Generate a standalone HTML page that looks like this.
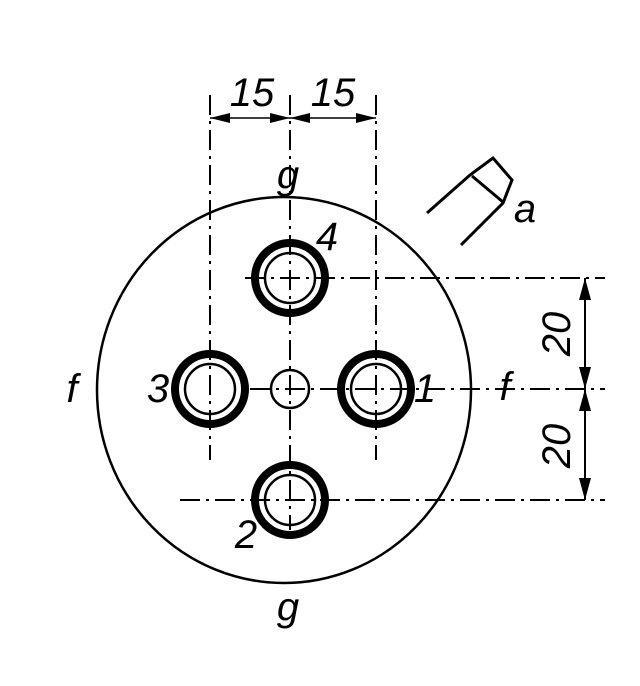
<!DOCTYPE html>
<html><head><style>html,body{margin:0;padding:0;background:#fff}</style></head><body>
<svg width="640" height="681" viewBox="0 0 640 681" xmlns="http://www.w3.org/2000/svg" font-family="Liberation Sans, sans-serif" font-style="italic">
<rect width="640" height="681" fill="#fff"/>
<ellipse cx="284" cy="390" rx="187" ry="193" fill="none" stroke="#000" stroke-width="2.5"/>
<g stroke="#000" stroke-width="2" stroke-dasharray="20,6,3,6" fill="none">
<line x1="210" y1="95" x2="210" y2="460"/>
<line x1="376" y1="95" x2="376" y2="460"/>
<line x1="290" y1="95" x2="290" y2="530"/>
<line x1="245" y1="278" x2="605" y2="278"/>
<line x1="180" y1="500" x2="605" y2="500"/>
<line x1="250" y1="389" x2="605" y2="389"/>
</g>
<line x1="210" y1="118" x2="376" y2="118" stroke="#000" stroke-width="1.5"/>
<g fill="#000">
<polygon points="210,118 230,113 230,123"/>
<polygon points="376,118 356,113 356,123"/>
<polygon points="290,118 270,113 270,123"/>
<polygon points="290,118 310,113 310,123"/>
<polygon points="585,278 579,300 591,300"/>
<polygon points="585,389 579,367 591,367"/>
<polygon points="585,389 579,411 591,411"/>
<polygon points="585,500 579,478 591,478"/>
</g>
<line x1="585" y1="278" x2="585" y2="500" stroke="#000" stroke-width="2"/>
<g fill="none" stroke="#000">
<circle cx="290" cy="278" r="35" stroke-width="8"/><circle cx="290" cy="278" r="25" stroke-width="2.5"/>
<circle cx="210" cy="389" r="35" stroke-width="8"/><circle cx="210" cy="389" r="25" stroke-width="2.5"/>
<circle cx="376" cy="389" r="35" stroke-width="8"/><circle cx="376" cy="389" r="25" stroke-width="2.5"/>
<circle cx="290" cy="500" r="35" stroke-width="8"/><circle cx="290" cy="500" r="25" stroke-width="2.5"/>
<circle cx="290" cy="389" r="19" stroke-width="2.5"/>
<path d="M427 213 L470 175 L493 158 L512 180 L503 203 L461 245 M472 176 L503 202" stroke-width="3"/>
</g>
<g font-size="40" fill="#000" text-anchor="middle">
<text x="252" y="106">15</text>
<text x="333" y="106">15</text>
<text x="288" y="188">g</text>
<text x="288" y="620">g</text>
<text x="72" y="402">f</text>
<text x="505" y="400">f</text>
<text x="158" y="402">3</text>
<text x="425" y="402">1</text>
<text x="327" y="250">4</text>
<text x="246" y="548">2</text>
<text x="525" y="222">a</text>
<text transform="translate(570,334) rotate(-90)">20</text>
<text transform="translate(570,446) rotate(-90)">20</text>
</g>
</svg>
</body></html>
